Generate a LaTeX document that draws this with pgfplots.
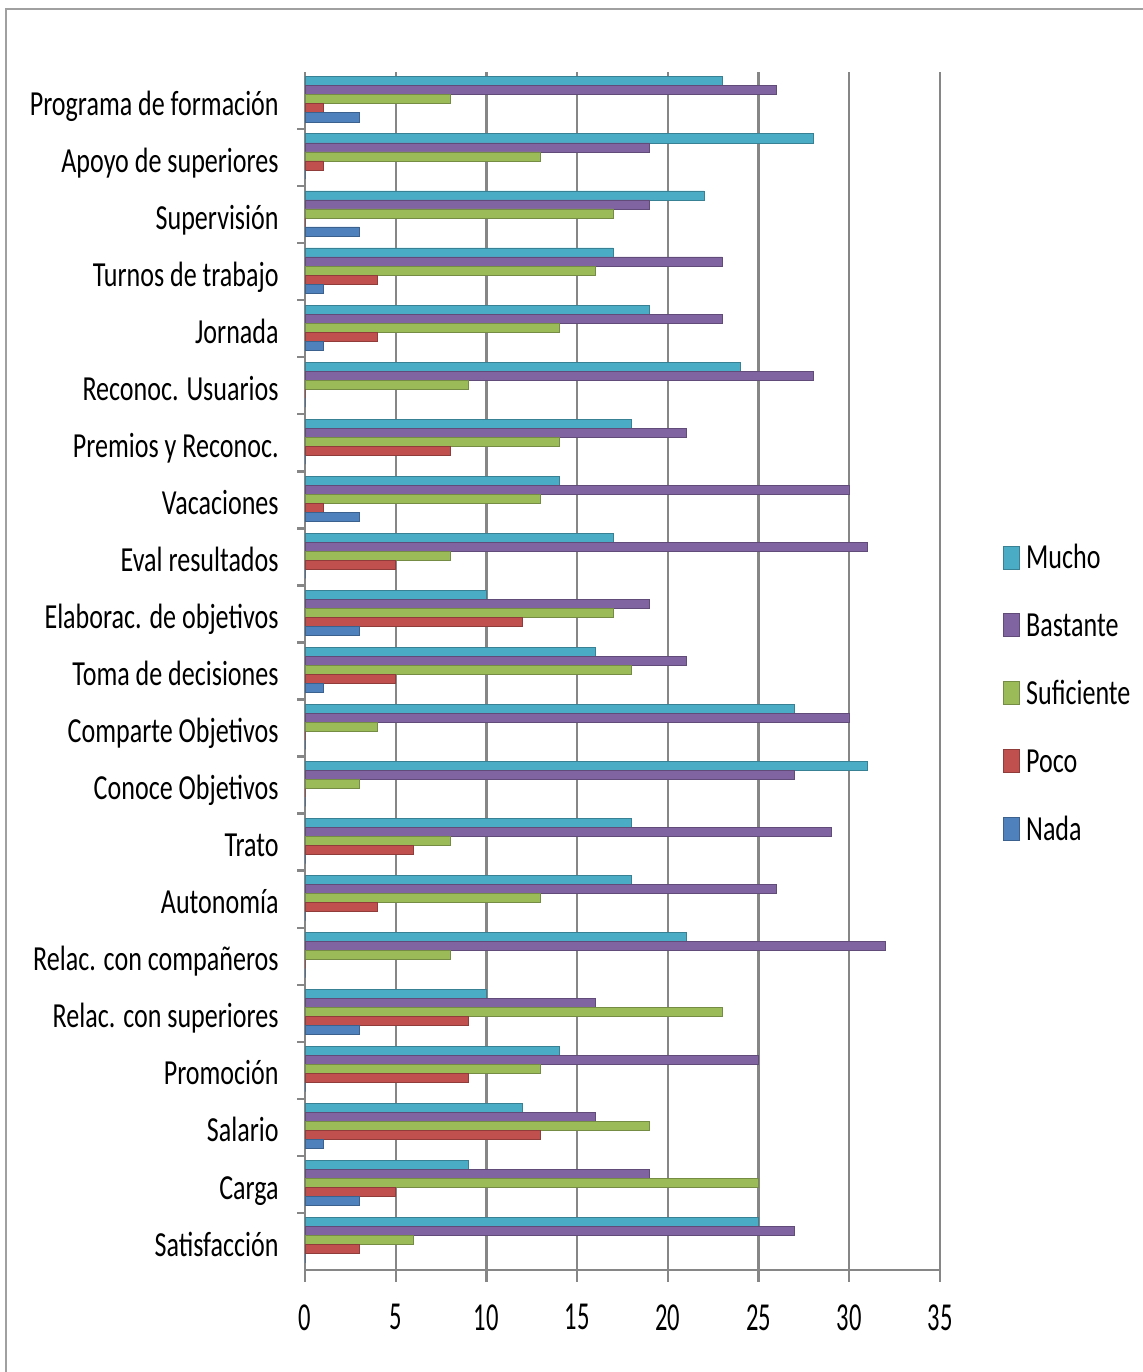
\documentclass[border=0pt]{standalone}
\usepackage{fontspec}
\setmainfont{Carlito}[FakeStretch=0.74]
\newfontfamily\tickfont{Carlito}[FakeStretch=0.62]
\usepackage{pgfplots}
\usepackage{pgfplotstable}
\pgfplotsset{compat=1.18}
\definecolor{cMucho}{HTML}{4BACC6}
\definecolor{cBastante}{HTML}{8064A2}
\definecolor{cSuficiente}{HTML}{9BBB59}
\definecolor{cPoco}{HTML}{C0504D}
\definecolor{cNada}{HTML}{4F81BD}
\definecolor{gridgray}{RGB}{134,134,134}
\definecolor{framegray}{RGB}{160,160,160}
\pgfplotstableread{
idx mucho bastante suficiente poco nada
0  25 27 6  3  0
1  9  19 25 5  3
2  12 16 19 13 1
3  14 25 13 9  0
4  10 16 23 9  3
5  21 32 8  0  0
6  18 26 13 4  0
7  18 29 8  6  0
8  31 27 3  0  0
9  27 30 4  0  0
10 16 21 18 5  1
11 10 19 17 12 3
12 17 31 8  5  0
13 14 30 13 1  3
14 18 21 14 8  0
15 24 28 9  0  0
16 19 23 14 4  1
17 17 23 16 4  1
18 22 19 17 0  3
19 28 19 13 1  0
20 23 26 8  1  3
}\datatable
\begin{document}
\begin{tikzpicture}
\path[use as bounding box] (0,0) rectangle (571.5pt,686pt);
\draw[framegray, line width=1.2pt] (3pt,0) -- (3pt,681.5pt) -- (580pt,681.5pt);
\begin{axis}[
  at={(152.5pt,51pt)}, anchor=south west,
  scale only axis, width=317.5pt, height=599pt,
  xmin=0, xmax=35, ymin=-0.5, ymax=20.5,
  xbar, bar width=0.158,
  xtick={0,5,...,35}, ytick={0,...,20},
  yticklabels={Satisfacción, Carga, Salario, Promoción, Relac. con superiores, Relac. con compañeros, Autonomía, Trato, Conoce Objetivos, Comparte Objetivos, Toma de decisiones, Elaborac. de objetivos, Eval resultados, Vacaciones, Premios y Reconoc., Reconoc. Usuarios, Jornada, Turnos de trabajo, Supervisión, Apoyo de superiores, Programa de formación},
  minor y tick num=1,
  xmajorgrids, grid style={line width=1.2pt, color=gridgray},
  axis x line*=bottom, axis y line*=left,
  axis line style={-, line width=1.2pt, color=gridgray},
  tick style={line width=1.2pt, color=gridgray},
  tick align=outside, major tick length=6pt, minor tick length=4pt,
  major y tick style={draw=none},
  /pgf/number format/assume math mode=true,
  xticklabel style={font=\tickfont\fontsize{19.8pt}{22pt}\selectfont, inner sep=0pt, anchor=north, yshift=-11pt},
  yticklabel style={font=\fontsize{17.6pt}{20pt}\selectfont, inner sep=0pt, anchor=base east, xshift=-7pt, yshift=-7.3pt},
  legend cell align=left,
  legend style={at={(1.0992,0.4816)}, anchor=west, draw=none, fill=none, inner sep=0pt,
    row sep=22pt, column sep=3pt,
    font=\fontsize{17.6pt}{20pt}\selectfont,
    nodes={inner sep=0pt, text height=11.5pt, text depth=0pt}},
  legend image code/.code={\fill[#1] (0pt,-5.75pt) rectangle (8pt,5.75pt);},
]
\addplot[fill=cMucho, draw=cMucho!75!black, line width=0.4pt, bar shift=0.336] table[x=mucho, y=idx] \datatable;
\addplot[fill=cBastante, draw=cBastante!75!black, line width=0.4pt, bar shift=0.178] table[x=bastante, y=idx] \datatable;
\addplot[fill=cSuficiente, draw=cSuficiente!75!black, line width=0.4pt, bar shift=0.02] table[x=suficiente, y=idx] \datatable;
\addplot[fill=cPoco, draw=cPoco!75!black, line width=0.4pt, bar shift=-0.138] table[x=poco, y=idx] \datatable;
\addplot[fill=cNada, draw=cNada!75!black, line width=0.4pt, bar shift=-0.296] table[x=nada, y=idx] \datatable;
\legend{Mucho, Bastante, Suficiente, Poco, Nada}
\end{axis}
\end{tikzpicture}
\end{document}
